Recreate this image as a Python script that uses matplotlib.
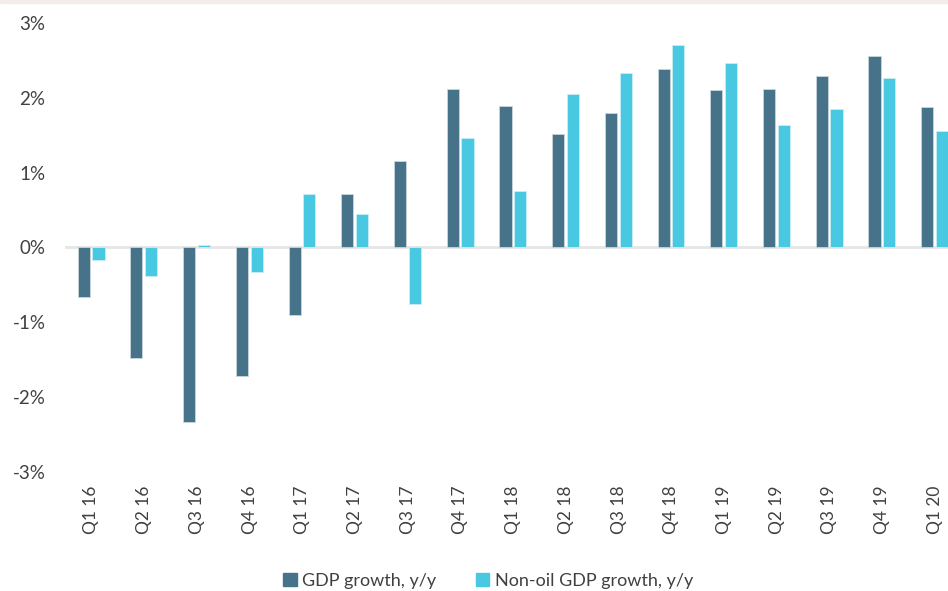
import numpy as np
import matplotlib.pyplot as plt
from matplotlib.patches import Patch

# ====================== DATA ======================
quarters = ["Q1 16", "Q2 16", "Q3 16", "Q4 16", "Q1 17", "Q2 17", "Q3 17", "Q4 17",
            "Q1 18", "Q2 18", "Q3 18", "Q4 18", "Q1 19", "Q2 19", "Q3 19", "Q4 19", "Q1 20"]
gdp_growth = [-0.66, -1.48, -2.34, -1.72, -0.91, 0.72, 1.16, 2.12,
              1.89, 1.51, 1.80, 2.39, 2.10, 2.12, 2.29, 2.56, 1.88]
nonoil_growth = [-0.17, -0.38, 0.03, -0.33, 0.72, 0.45, -0.76, 1.46,
                 0.76, 2.05, 2.33, 2.71, 2.47, 1.64, 1.85, 2.26, 1.55]
y_ticks = [-3, -2, -1, 0, 1, 2, 3]
# ==================================================

DARK = "#46738A"
LIGHT = "#48C9E1"
TEXT = "#404040"

plt.rcParams['font.family'] = ['Lato', 'DejaVu Sans']

W, H = 948, 591
fig = plt.figure(figsize=(W / 100, H / 100), dpi=100)

# thin beige band along the top edge
fig.patches.append(plt.Rectangle((0, 1 - 3 / H), 1, 3 / H, transform=fig.transFigure,
                                 color="#F3ECE8", zorder=0))

ax = fig.add_axes([65 / W, 1 - 471.7 / H, (W - 65) / W, (471.7 - 23) / H])

x = np.arange(len(quarters))
bw = 0.23
ax.bar(x - 0.145, gdp_growth, width=bw, color=DARK, edgecolor="#C9D6DD", linewidth=0.6, zorder=3)
ax.bar(x + 0.135, nonoil_growth, width=bw, color=LIGHT, edgecolor="#C8EEF5", linewidth=0.6, zorder=3)

ax.axhline(0, color="#E6E6E6", linewidth=2, zorder=2)

ax.set_xlim(-0.5, 16.25)
ax.set_ylim(-3, 3)
ax.set_yticks(y_ticks)
ax.set_yticklabels([f"{t}%" for t in y_ticks], fontsize=13.5, color=TEXT)
ax.set_xticks(x)
ax.set_xticklabels(quarters, rotation=90, fontsize=12.5, color=TEXT)
ax.tick_params(axis="y", length=0, pad=14)
ax.tick_params(axis="x", length=0, pad=10)
for s in ax.spines.values():
    s.set_visible(False)

handles = [Patch(color=DARK), Patch(color=LIGHT)]
fig.legend(handles, ["GDP growth, y/y", "Non-oil GDP growth, y/y"],
           loc="center", bbox_to_anchor=(488 / W, 1 - 581 / H), ncol=2, frameon=False,
           fontsize=13, labelcolor=TEXT, handlelength=0.75, handleheight=0.75,
           handletextpad=0.3, columnspacing=2.2)

fig.savefig("out.png", dpi=100)
